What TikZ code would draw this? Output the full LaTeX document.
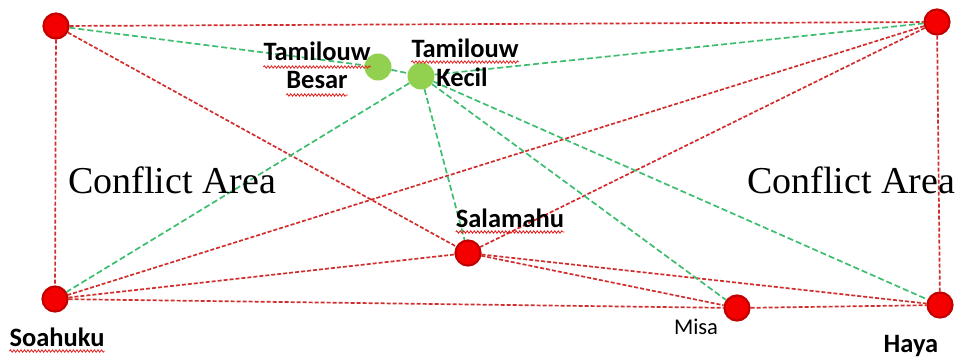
\documentclass[tikz,border=0pt]{standalone}
\usepackage{fontspec}
\newfontfamily\labfont{Carlito}
\newfontfamily\serfont{Liberation Serif}
\usetikzlibrary{decorations.pathmorphing}
\pgfdeclarelayer{bg}
\pgfsetlayers{bg,main}
\definecolor{redline}{RGB}{210,45,45}
\definecolor{greenline}{RGB}{60,190,110}
\definecolor{nodered}{RGB}{245,0,0}
\definecolor{rimred}{RGB}{195,0,0}
\definecolor{nodegreen}{RGB}{146,208,80}
\definecolor{wavyred}{RGB}{230,30,30}
\begin{document}
\begin{tikzpicture}[x=1pt,y=-1pt,
  rnode/.style={circle,fill=nodered,draw=rimred,line width=2.2pt,minimum size=25pt,inner sep=0pt},
  gnode/.style={circle,fill=nodegreen,minimum size=27pt,inner sep=0pt},
  rlink/.style={draw=redline,dash pattern=on 4pt off 2pt,line width=1.7pt},
  glink/.style={draw=greenline,dash pattern=on 6pt off 3pt,line width=1.7pt},
  blab/.style={font=\labfont\bfseries\fontsize{26.5}{26.5}\selectfont,inner sep=0pt,anchor=base},
  rlab/.style={font=\labfont\fontsize{22.5}{22.5}\selectfont,inner sep=0pt,anchor=base},
  arealab/.style={font=\serfont\fontsize{38}{38}\selectfont,inner sep=0pt,anchor=base},
  wavy/.style={draw=wavyred,line width=0.8pt,decorate,decoration={snake,amplitude=1.2pt,segment length=3.5pt}}
]
\useasboundingbox (0,0) rectangle (959,360);

% nodes
\node[rnode] (tl) at (56,26) {};
\node[rnode] (tr) at (937,22) {};
\node[rnode] (soa) at (55,299) {};
\node[rnode] (haya) at (940,305) {};
\node[rnode] (misa) at (737,308) {};
\node[rnode] (sal) at (468,253) {};
\node[gnode] (besar) at (378,67) {};
\node[gnode] (kecil) at (421,76) {};

% connectors
\begin{pgfonlayer}{bg}
\draw[rlink] (tl) -- (tr);
\draw[rlink] (tl) -- (soa);
\draw[rlink] (tr) -- (haya);
\draw[rlink] (soa) -- (misa);
\draw[rlink] (misa) -- (haya);
\draw[rlink] (tl) -- (sal);
\draw[rlink] (tr) -- (sal);
\draw[rlink] (tr) -- (soa);
\draw[rlink] (soa) -- (sal);
\draw[rlink] (sal) -- (misa);
\draw[rlink] (sal) -- (haya);
\draw[glink] (tl) -- (besar);
\draw[glink] (besar) -- (kecil);
\draw[glink] (kecil) -- (tr);
\draw[glink] (kecil) -- (soa);
\draw[glink] (kecil) -- (sal);
\draw[glink] (kecil) -- (misa);
\draw[glink] (kecil) -- (haya);
\end{pgfonlayer}

% labels
\node[blab] (bt1) at (317,60) {Tamilouw};
\node[blab] (bt2) at (317,88) {Besar};
\node[blab] (kt1) at (465,57) {Tamilouw};
\node[blab] (kt2) at (462,86) {Kecil};
\node[blab] (sall) at (510,227) {Salamahu};
\node[blab] (soal) at (57,346) {Soahuku};
\node[rlab] (misal) at (696,334) {Misa};
\node[blab] (hayal) at (911,352) {Haya};
\node[arealab] (ca1) at (172,193) {Conflict Area};
\node[arealab] (ca2) at (851,193) {Conflict Area};

% spell-check underlines
\draw[wavy] ([yshift=-7pt]bt1.base west) -- ([yshift=-7pt]bt1.base east);
\draw[wavy] ([yshift=-7pt]bt2.base west) -- ([yshift=-7pt]bt2.base east);
\draw[wavy] ([yshift=-5pt]kt1.base west) -- ([yshift=-5pt]kt1.base east);
\draw[wavy] ([yshift=-5pt]sall.base west) -- ([yshift=-5pt]sall.base east);
\draw[wavy] ([yshift=-5pt]soal.base west) -- ([yshift=-5pt]soal.base east);
\end{tikzpicture}
\end{document}
